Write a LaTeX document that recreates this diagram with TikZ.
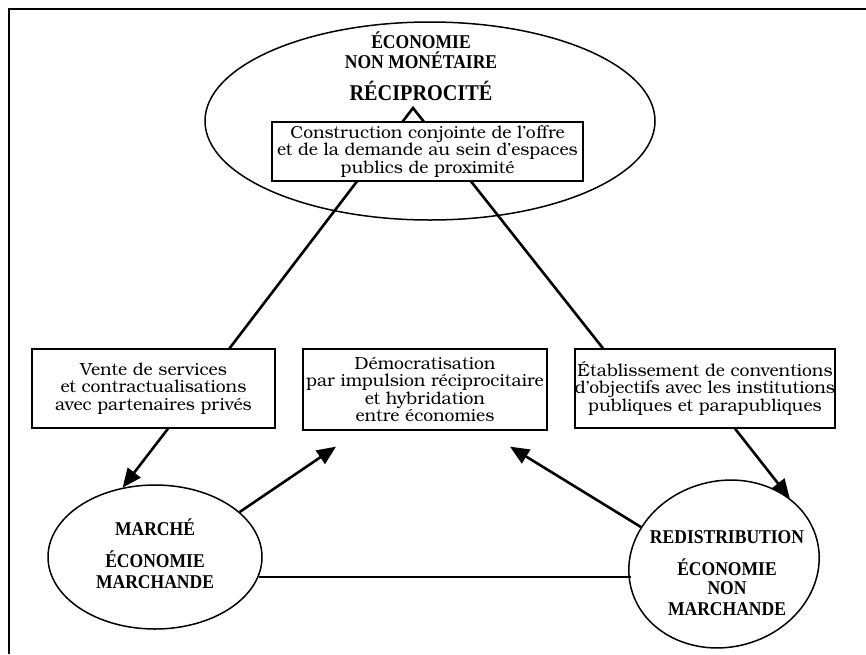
\documentclass[tikz,border=0pt]{standalone}
\usepackage{fontspec}
\setmainfont{texgyrebonum-regular.otf}[BoldFont=texgyrebonum-bold.otf]
\newfontfamily\capfont{Liberation Serif}[FakeStretch=0.9]
\usetikzlibrary{arrows.meta,backgrounds,calc,shapes.geometric}
\tikzset{
  box/.style={draw, line width=1.3pt, fill=white, align=center, inner sep=0pt,
    font=\fontsize{17.5}{17.5}\selectfont},
  oval/.style={draw, ellipse, line width=1.5pt, inner sep=0pt},
  lbl/.style={font=\capfont\bfseries\fontsize{19.5}{22}\selectfont, anchor=base, inner sep=0pt},
  biglbl/.style={font=\capfont\bfseries\fontsize{22.5}{25}\selectfont, anchor=base, inner sep=0pt},
  link/.style={line width=2.6pt},
  arr/.style={line width=2.6pt, -{Triangle[length=19pt,width=16pt]}},
}
\begin{document}
\begin{tikzpicture}[x=1pt,y=-1pt]
\useasboundingbox (0,0) rectangle (866,654);
\draw[line width=2pt] (9,654) -- (9,9) -- (866,9);

% ellipses
\node[oval, minimum width=450pt, minimum height=198pt] (reci) at (430,121) {};
\node[oval, minimum width=214pt, minimum height=144pt] (marche) at (155,557) {};
\node[oval, minimum width=192pt, minimum height=166pt, rotate=15] (redis) at (724,564) {};

% labels
\node[lbl] (eco1) at (421,48) {ÉCONOMIE};
\node[lbl] (eco2) at (421,68) {NON MONÉTAIRE};
\node[biglbl] (recip) at (421,100) {RÉCIPROCITÉ};
\node[lbl] (m1) at (155,535) {MARCHÉ};
\node[lbl] (m2) at (155,567) {ÉCONOMIE};
\node[lbl] (m3) at (155,588) {MARCHANDE};
\node[lbl] (r1) at (727,543) {REDISTRIBUTION};
\node[lbl] (r2) at (727,575) {ÉCONOMIE};
\node[lbl] (r3) at (727,594) {NON};
\node[lbl] (r4) at (727,615) {MARCHANDE};

% boxes
\node[box, minimum width=311pt, minimum height=59pt] (top) at (427.5,151.5)
  {Construction conjointe de l’offre\\et de la demande au sein d’espaces\\publics de proximité};
\node[box, minimum width=243pt, minimum height=79pt] (vente) at (153.5,388.5)
  {Vente de services\\et contractualisations\\avec partenaires privés};
\node[box, minimum width=244pt, minimum height=81pt] (demo) at (425,389.5)
  {Démocratisation\\par impulsion réciprocitaire\\et hybridation\\entre économies};
\node[box, minimum width=260pt, minimum height=79pt] (etab) at (705,388.5)
  {Établissement de conventions\\d’objectifs avec les institutions\\publiques et parapubliques};

\coordinate (apex) at (413,108);
\begin{scope}[on background layer]
\draw[link] ($(vente.north)+(76,0)$) -- (apex) -- ($(etab.north)+(-102,0)$);
\end{scope}

\draw[link] (marche.-11) -- (marche.-11 -| redis.west);

\coordinate (tipL) at ($(demo.south)+(-89,16)$);
\coordinate (tipR) at ($(demo.south)+(85,16)$);
\draw[arr] (marche.28) -- (tipL);
\draw[arr] (redis.141) -- (tipR);
\draw[arr] ($(vente.south)+(14.5,0)$) -- (marche.115);
\draw[arr] ($(etab.south)+(30,0)$) -- (redis.30);
\end{tikzpicture}
\end{document}
